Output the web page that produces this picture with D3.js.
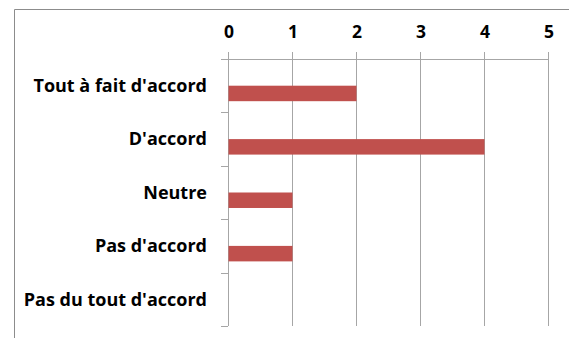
<!DOCTYPE html>
<html>
<head>
<meta charset="utf-8">
<script src="https://cdn.jsdelivr.net/npm/d3@7"></script>
<style>
  body { margin: 0; background: #fff; }
  svg { display: block; }
  text { font-family: 'Open Sans', sans-serif; font-weight: bold; fill: #000; }
</style>
</head>
<body>
<svg width="569" height="338"></svg>
<script>
const CATEGORIES = ['Tout à fait d\'accord', 'D\'accord', 'Neutre', 'Pas d\'accord', 'Pas du tout d\'accord']
const VALUES = [2, 4, 1, 1, 0]
const TICKS = [0, 1, 2, 3, 4, 5]

const svg = d3.select('svg')
const width = 569
const height = 338
const plot = { left: 228, right: 548, top: 59, bottom: 326 }

// outer chart border (only top and left show in frame)
svg.append('path')
  .attr('d', `M14.5,${height} V9.5 H${width}`)
  .attr('fill', 'none')
  .attr('stroke', '#8c8c8c')
  .attr('stroke-width', 1)

const x = d3.scaleLinear().domain([0, 5]).range([plot.left, plot.right])
const y = d3.scaleBand().domain(CATEGORIES).range([plot.top, plot.bottom])

// vertical gridlines with short ticks above the axis
svg.append('g')
  .selectAll('line')
  .data(TICKS)
  .enter().append('line')
  .attr('x1', d => Math.round(x(d)) + 0.5)
  .attr('x2', d => Math.round(x(d)) + 0.5)
  .attr('y1', plot.top - 7)
  .attr('y2', plot.bottom)
  .attr('stroke', '#a6a6a6')

// top axis line
svg.append('line')
  .attr('x1', plot.left - 7)
  .attr('x2', plot.right + 0.5)
  .attr('y1', plot.top + 0.5)
  .attr('y2', plot.top + 0.5)
  .attr('stroke', '#a6a6a6')

// left category boundaries
const bounds = CATEGORIES.map(c => y(c)).concat([plot.bottom])
svg.append('g')
  .selectAll('line')
  .data(bounds)
  .enter().append('line')
  .attr('x1', plot.left - 7)
  .attr('x2', plot.left)
  .attr('y1', d => Math.round(d) + 0.5)
  .attr('y2', d => Math.round(d) + 0.5)
  .attr('stroke', '#a6a6a6')

// bars sit in the lower half of each band
svg.append('g')
  .selectAll('rect')
  .data(VALUES)
  .enter().append('rect')
  .attr('x', x(0) + 0.5)
  .attr('y', (d, i) => y(CATEGORIES[i]) + y.bandwidth() * 0.5)
  .attr('width', d => Math.max(0, x(d) - x(0)))
  .attr('height', y.bandwidth() * 0.29)
  .attr('fill', '#c0504d')

// tick labels
svg.append('g')
  .selectAll('text')
  .data(TICKS)
  .enter().append('text')
  .attr('x', d => x(d) + 1)
  .attr('y', 32)
  .attr('dy', '0.35em')
  .attr('text-anchor', 'middle')
  .style('font-size', '17.5px')
  .text(d => d)

// category labels
svg.append('g')
  .selectAll('text')
  .data(CATEGORIES)
  .enter().append('text')
  .attr('x', 207)
  .attr('y', d => y(d) + y.bandwidth() / 2)
  .attr('dy', '0.35em')
  .attr('text-anchor', 'end')
  .style('font-size', '18px')
  .text(d => d)
</script>
</body>
</html>
